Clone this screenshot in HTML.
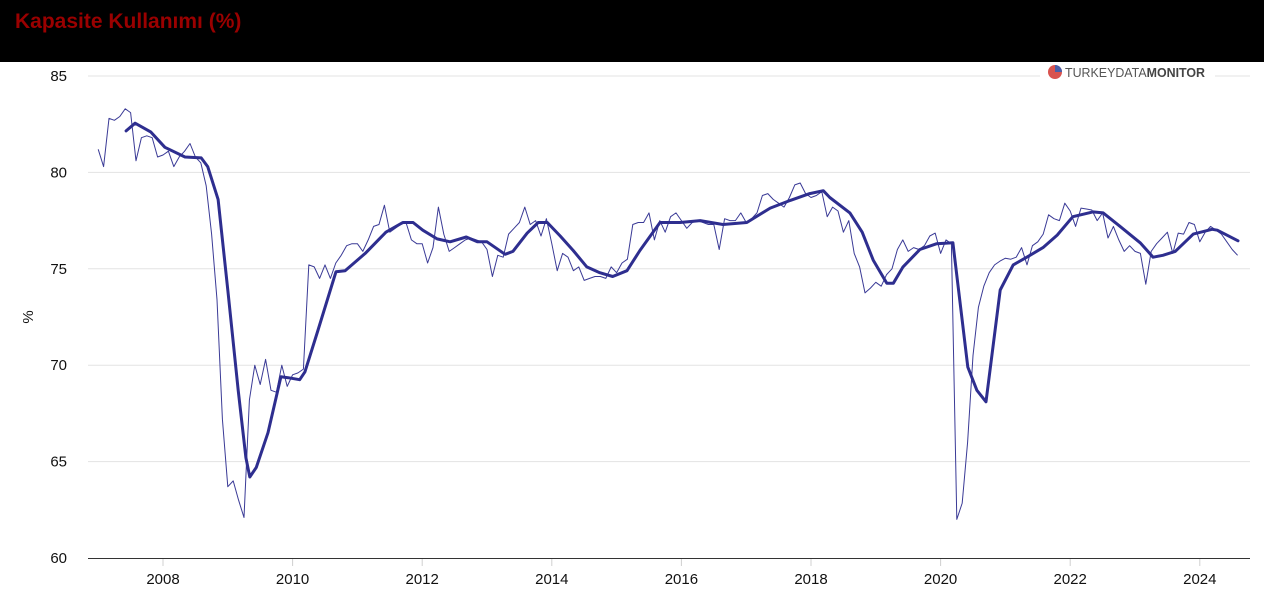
<!DOCTYPE html>
<html><head><meta charset="utf-8">
<style>
body{margin:0;width:1264px;height:607px;overflow:hidden;background:#fff;font-family:"Liberation Sans",sans-serif;}
#hdr{position:absolute;left:0;top:0;width:1264px;height:62px;background:#000;}
#title{position:absolute;left:15px;top:10px;color:#9a0000;font-weight:bold;font-size:21px;}
svg{position:absolute;left:0;top:0;}
</style></head><body>
<div id="hdr"><div id="title">Kapasite Kullanımı (%)</div></div>
<svg id="chart" width="1264" height="607"></svg>
<script>
const startYear = 2007;
const monthly = [
81.2,80.3,82.8,82.7,82.9,83.3,83.1,80.6,81.8,81.9,81.8,80.8,
80.9,81.1,80.3,80.8,81.1,81.5,80.8,80.5,79.3,76.8,73.4,67.2,
63.7,64.0,63.0,62.1,68.2,70.0,69.0,70.3,68.7,68.6,70.0,68.9,
69.5,69.6,69.8,75.2,75.1,74.5,75.2,74.5,75.3,75.7,76.2,76.3,
76.3,75.9,76.5,77.2,77.3,78.3,76.9,77.1,77.3,77.4,76.5,76.3,
76.3,75.3,76.1,78.2,76.8,75.9,76.1,76.3,76.5,76.6,76.5,76.4,
76.0,74.6,75.7,75.6,76.8,77.1,77.4,78.2,77.3,77.5,76.7,77.6,
76.3,74.9,75.8,75.6,74.9,75.1,74.4,74.5,74.6,74.6,74.5,75.1,
74.8,75.3,75.5,77.3,77.4,77.4,77.9,76.5,77.5,76.9,77.7,77.9,
77.5,77.1,77.4,77.5,77.4,77.3,77.3,76.0,77.6,77.5,77.5,77.9,
77.4,77.6,77.9,78.8,78.9,78.6,78.4,78.2,78.7,79.35,79.45,78.9,
78.7,78.8,79.0,77.7,78.2,78.0,76.9,77.5,75.8,75.1,73.75,74.0,
74.3,74.1,74.7,75.0,76.0,76.5,75.9,76.1,76.0,76.2,76.7,76.85,
75.8,76.5,76.3,62.0,62.85,66.0,70.5,73.0,74.1,74.8,75.2,75.4,
75.55,75.5,75.6,76.1,75.2,76.2,76.4,76.8,77.8,77.6,77.5,78.4,
78.0,77.2,78.15,78.1,78.05,77.5,77.9,76.6,77.2,76.5,75.9,76.2,
75.9,75.8,74.2,75.9,76.3,76.6,76.9,75.8,76.85,76.8,77.4,77.3,
76.4,76.9,77.2,77.0,76.8,76.4,76.0,75.7];
const trendYears = [2007.43,2007.57,2007.81,2008.03,2008.34,2008.59,2008.69,2008.85,2009.00,2009.16,2009.28,2009.34,2009.44,2009.62,2009.82,2009.93,2010.11,2010.19,2010.39,2010.67,2010.81,2011.12,2011.44,2011.70,2011.86,2012.01,2012.23,2012.43,2012.68,2012.85,2013.00,2013.28,2013.40,2013.62,2013.79,2013.93,2014.13,2014.33,2014.54,2014.74,2014.94,2015.16,2015.36,2015.67,2015.98,2016.29,2016.64,2017.01,2017.37,2017.68,2017.98,2018.19,2018.29,2018.60,2018.79,2018.96,2019.17,2019.27,2019.42,2019.68,2019.94,2020.19,2020.42,2020.56,2020.70,2020.92,2021.12,2021.33,2021.58,2021.80,2022.04,2022.35,2022.51,2022.77,2023.08,2023.28,2023.43,2023.62,2023.90,2024.19,2024.27,2024.59];
const trendValues = [82.15,82.55,82.1,81.3,80.8,80.75,80.3,78.6,73.9,68.7,65.2,64.2,64.7,66.5,69.4,69.35,69.25,69.65,71.8,74.85,74.9,75.8,76.9,77.4,77.4,77.0,76.55,76.4,76.65,76.4,76.4,75.75,75.9,76.85,77.4,77.4,76.7,75.95,75.1,74.8,74.6,74.9,75.95,77.4,77.4,77.5,77.3,77.4,78.15,78.55,78.9,79.05,78.7,77.9,76.9,75.45,74.25,74.25,75.1,76.0,76.3,76.35,69.9,68.7,68.1,73.9,75.2,75.6,76.1,76.75,77.7,77.95,77.9,77.2,76.35,75.6,75.7,75.9,76.8,77.05,77.0,76.45];
const yTicks = [60,65,70,75,80,85];
const xTicks = [2008,2010,2012,2014,2016,2018,2020,2022,2024];

const svg = document.getElementById('chart');
const NS = 'http://www.w3.org/2000/svg';
const L = 88, R = 1250;
const xs = y => 163 + (y - 2008) * 64.8;
const ys = v => 558 - (v - 60) * 96.4 / 5;
function mk(tag, attrs){const e=document.createElementNS(NS,tag);for(const k in attrs)e.setAttribute(k,attrs[k]);svg.appendChild(e);return e;}

yTicks.forEach(t=>{
  if(t>60){const g=mk('line',{x1:L,x2:R,y1:ys(t),y2:ys(t),stroke:'#e3e3e3','stroke-width':1});
  
  }
  const tx=mk('text',{x:67,y:ys(t)+5,'text-anchor':'end','font-size':15,fill:'#111','font-family':'Liberation Sans, sans-serif'});
  tx.textContent=t;
  
  
});
xTicks.forEach(t=>{
  const tk=mk('line',{x1:xs(t),x2:xs(t),y1:559,y2:566,stroke:'#d0d0d0'});
  
  
  const tx=mk('text',{x:xs(t),y:584,'text-anchor':'middle','font-size':15,fill:'#111','font-family':'Liberation Sans, sans-serif'});
  tx.textContent=t;
  
  
});
const ax=mk('line',{x1:L,x2:R,y1:558.5,y2:558.5,stroke:'#333','stroke-width':1});


const yt=mk('text',{x:0,y:0,transform:'translate(33,317) rotate(-90)','text-anchor':'middle','font-size':15,fill:'#111','font-family':'Liberation Sans, sans-serif'});
yt.textContent='%';



let d='';
monthly.forEach((v,i)=>{d+=(i?'L':'M')+xs(startYear+i/12).toFixed(1)+','+ys(v).toFixed(1);});
const p1=mk('path',{d:d,fill:'none',stroke:'#3a3a96','stroke-width':1,'stroke-linejoin':'round'});


let d2='';
trendValues.forEach((v,i)=>{d2+=(i?'L':'M')+xs(trendYears[i]).toFixed(1)+','+ys(v).toFixed(1);});
const p2=mk('path',{d:d2,fill:'none',stroke:'#2e2e8f','stroke-width':3,'stroke-linejoin':'round','stroke-linecap':'round'});



const bg=mk('rect',{x:1040,y:63,width:175,height:18,fill:'#fff'});


const c1=mk('circle',{cx:1055,cy:72,r:7,fill:'#d9534f'});


const c2=mk('path',{d:'M1055,65 A7,7 0 0 1 1062,72 L1055,72 Z',fill:'#4a5fa8'});


const lg=mk('text',{x:1065,y:77,'font-size':13,fill:'#555','font-family':'Liberation Sans, sans-serif',textLength:140,lengthAdjust:'spacingAndGlyphs'});
lg.innerHTML='<tspan>TURKEY</tspan><tspan>DATA</tspan><tspan font-weight="bold" fill="#444">MONITOR</tspan>';


</script>
</body></html>
